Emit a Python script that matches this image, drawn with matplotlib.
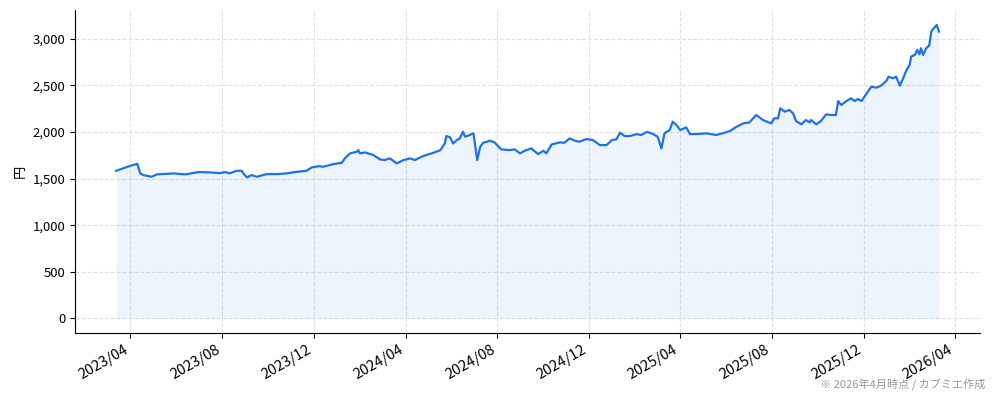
import matplotlib
matplotlib.use("Agg")
import matplotlib.pyplot as plt
import matplotlib.dates as mdates
from matplotlib.ticker import FuncFormatter
import numpy as np

plt.rcParams['font.family'] = ['Noto Sans CJK JP', 'DejaVu Sans']

# 株価（円）: 画像から読み取った値
dates = [
    "2023-03-13", "2023-04-01", "2023-04-10", "2023-04-14", "2023-04-18", "2023-04-29",
    "2023-05-06", "2023-05-28", "2023-06-13", "2023-06-30", "2023-07-16", "2023-07-29",
    "2023-08-05", "2023-08-11", "2023-08-20", "2023-08-27", "2023-08-29", "2023-09-03",
    "2023-09-09", "2023-09-16", "2023-09-29", "2023-10-12", "2023-10-26", "2023-11-08",
    "2023-11-21", "2023-11-28", "2023-12-08", "2023-12-13", "2023-12-27",
    "2024-01-07", "2024-01-11", "2024-01-18", "2024-01-27", "2024-01-29", "2024-01-31",
    "2024-02-07", "2024-02-18", "2024-02-27", "2024-03-04", "2024-03-11", "2024-03-20",
    "2024-03-29", "2024-04-07", "2024-04-13", "2024-04-24", "2024-05-08", "2024-05-17",
    "2024-05-23", "2024-05-25", "2024-05-30", "2024-06-03", "2024-06-08", "2024-06-12",
    "2024-06-16", "2024-06-19", "2024-06-25", "2024-06-30", "2024-07-02", "2024-07-05",
    "2024-07-09", "2024-07-13", "2024-07-22", "2024-07-28", "2024-08-06", "2024-08-17",
    "2024-08-24", "2024-08-31", "2024-09-06", "2024-09-15", "2024-09-24", "2024-10-01",
    "2024-10-05", "2024-10-12", "2024-10-23", "2024-10-29", "2024-11-05", "2024-11-12",
    "2024-11-18", "2024-11-27", "2024-12-06", "2024-12-15", "2024-12-24", "2024-12-31",
    "2025-01-06", "2025-01-11", "2025-01-17", "2025-01-24", "2025-02-02", "2025-02-08",
    "2025-02-16", "2025-02-24", "2025-03-02", "2025-03-07", "2025-03-11", "2025-03-18",
    "2025-03-22", "2025-03-27", "2025-04-01", "2025-04-09", "2025-04-14", "2025-04-22",
    "2025-05-06", "2025-05-19", "2025-05-30", "2025-06-06", "2025-06-15", "2025-06-24",
    "2025-07-02", "2025-07-11", "2025-07-20", "2025-07-31", "2025-08-04", "2025-08-09",
    "2025-08-12", "2025-08-18", "2025-08-24", "2025-08-29", "2025-09-02", "2025-09-09",
    "2025-09-15", "2025-09-20", "2025-09-22", "2025-09-29", "2025-10-05", "2025-10-12",
    "2025-10-19", "2025-10-25", "2025-10-28", "2025-11-01", "2025-11-08", "2025-11-14",
    "2025-11-19", "2025-11-23", "2025-11-28", "2025-12-04", "2025-12-11", "2025-12-18",
    "2025-12-24", "2025-12-31", "2026-01-03", "2026-01-09", "2026-01-13", "2026-01-18",
    "2026-01-22", "2026-01-27", "2026-01-31", "2026-02-02", "2026-02-07", "2026-02-10",
    "2026-02-13", "2026-02-15", "2026-02-18", "2026-02-22", "2026-02-26", "2026-03-01",
    "2026-03-05", "2026-03-08", "2026-03-11",
]
prices = [
    1584, 1638, 1659, 1556, 1538, 1520,
    1545, 1556, 1545, 1570, 1567, 1559,
    1570, 1556, 1584, 1584, 1556, 1513,
    1538, 1520, 1548, 1548, 1556, 1573,
    1584, 1620, 1634, 1627, 1656,
    1670, 1717, 1771, 1789, 1806, 1771,
    1781, 1753, 1706, 1699, 1717, 1663,
    1699, 1717, 1699, 1742, 1778, 1806,
    1878, 1957, 1943, 1878, 1914, 1932,
    2003, 1950, 1968, 1986, 1878, 1699,
    1842, 1885, 1907, 1889, 1814, 1806,
    1814, 1771, 1799, 1824, 1763, 1799,
    1771, 1867, 1889, 1885, 1932, 1907,
    1896, 1925, 1914, 1860, 1860, 1914,
    1921, 1993, 1957, 1957, 1978, 1968,
    2003, 1978, 1950, 1824, 1986, 2022,
    2111, 2075, 2022, 2050, 1978, 1978,
    1986, 1968, 1993, 2011, 2057, 2093,
    2104, 2183, 2129, 2093, 2147, 2147,
    2255, 2219, 2237, 2201, 2118, 2083,
    2129, 2104, 2129, 2083, 2118, 2190,
    2183, 2183, 2333, 2290, 2333, 2362,
    2333, 2355, 2333, 2405, 2487, 2477,
    2498, 2548, 2595, 2577, 2595, 2498,
    2570, 2667, 2720, 2810, 2828, 2882,
    2835, 2900, 2828, 2900, 2928, 3086,
    3122, 3151, 3079,
]

x = np.array(dates, dtype="datetime64[D]")
y = np.array(prices)

fig = plt.figure(figsize=(9.94, 4.01), dpi=100)
ax = fig.add_axes([0.0755, 0.1696, 0.9105, 0.805])

ax.fill_between(x, y, 0, color='#1a73e8', alpha=0.08, linewidth=0)
ax.plot(x, y, color='#1a73e8', linewidth=1.6)

ax.xaxis.set_major_locator(mdates.MonthLocator(bymonth=[4, 8, 12]))
ax.xaxis.set_major_formatter(mdates.DateFormatter('%Y/%m'))
ax.yaxis.set_major_formatter(FuncFormatter(lambda v, p: f"{int(v):,}"))
ax.set_yticks([0, 500, 1000, 1500, 2000, 2500, 3000])

ax.tick_params(axis='y', labelsize=9.5)
ax.tick_params(axis='x', labelsize=10.5)
for lab in ax.get_xticklabels():
    lab.set_rotation(30)
    lab.set_ha('right')

ax.grid(True, linestyle='--', color='#e0e0e0', linewidth=0.8)
ax.set_axisbelow(True)
ax.spines['top'].set_visible(False)
ax.spines['right'].set_visible(False)
ax.set_ylabel('円', fontsize=9.5)

fig.text(0.991, 0.025, '※ 2026年4月時点 / カブミエ作成', ha='right', va='bottom',
         fontsize=8, color='#999999')

fig.savefig('out.png', dpi=100)
